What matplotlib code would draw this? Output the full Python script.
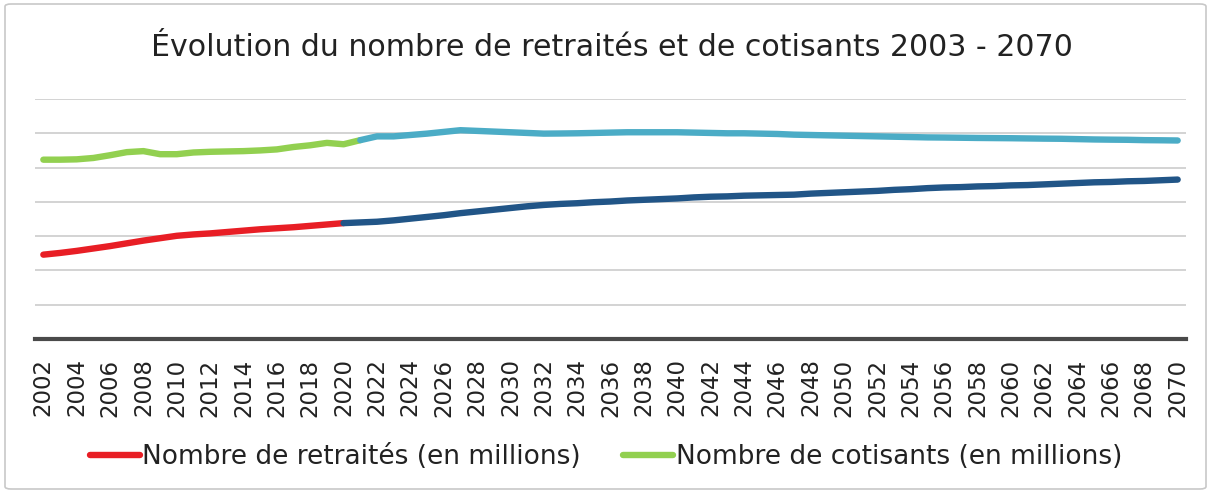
import matplotlib.pyplot as plt
import numpy as np
from matplotlib.patches import FancyBboxPatch

# années (axe des catégories)
years = list(range(2002, 2071))

# retraités, en millions : historique 2002-2020 puis projection 2020-2070
retraites_hist = [12.3, 12.55, 12.85, 13.2, 13.55, 13.95, 14.35, 14.7, 15.05, 15.25,
                  15.4, 15.6, 15.8, 16.0, 16.15, 16.3, 16.5, 16.7, 16.9]
retraites_proj = [16.9, 17.0, 17.1, 17.3, 17.55, 17.8, 18.05, 18.35, 18.6, 18.85,
                  19.1, 19.35, 19.55, 19.7, 19.8, 19.95, 20.05, 20.2, 20.3, 20.4,
                  20.5, 20.65, 20.75, 20.8, 20.9, 20.95, 21.0, 21.05, 21.2, 21.3,
                  21.4, 21.5, 21.6, 21.75, 21.85, 22.0, 22.1, 22.15, 22.25, 22.3,
                  22.4, 22.45, 22.55, 22.65, 22.75, 22.85, 22.9, 23.0, 23.05, 23.15,
                  23.25]

# cotisants, en millions : historique 2002-2021 puis projection 2021-2070
cotisants_hist = [26.15, 26.15, 26.2, 26.4, 26.8, 27.25, 27.4, 26.95, 26.95, 27.2,
                  27.3, 27.35, 27.4, 27.5, 27.65, 28.0, 28.25, 28.6, 28.4, 29.0]
cotisants_proj = [29.0, 29.55, 29.55, 29.75, 29.95, 30.2, 30.45, 30.35, 30.25, 30.15,
                  30.05, 29.95, 29.97, 30.0, 30.05, 30.1, 30.15, 30.15, 30.15, 30.15,
                  30.1, 30.05, 30.0, 30.0, 29.95, 29.9, 29.8, 29.75, 29.7, 29.65,
                  29.6, 29.55, 29.5, 29.45, 29.4, 29.38, 29.35, 29.32, 29.3, 29.28,
                  29.25, 29.22, 29.2, 29.15, 29.1, 29.07, 29.05, 29.0, 28.98, 28.95]

label_retraites = "Nombre de retraités (en millions)"
label_cotisants = "Nombre de cotisants (en millions)"
title = "Évolution du nombre de retraités et de cotisants 2003 - 2070"


def main():
    W, H = 1211, 493
    fig = plt.figure(figsize=(W / 100, H / 100), dpi=100)
    ax = fig.add_axes([35 / W, 1 - 339 / H, (1186 - 35) / W, (339 - 99) / H])

    lw = 4.6
    common = dict(lw=lw, solid_capstyle="round", solid_joinstyle="round", zorder=3)
    ax.plot(years[:len(retraites_hist)], retraites_hist, color="#E81E25",
            label=label_retraites, **common)
    ax.plot(years[len(retraites_hist) - 1:], retraites_proj, color="#215587", **common)
    ax.plot(years[:len(cotisants_hist)], cotisants_hist, color="#92D050",
            label=label_cotisants, **common)
    ax.plot(years[len(cotisants_hist) - 1:], cotisants_proj, color="#4BACC6", **common)

    ax.set_xlim(years[0] - 0.5, years[-1] + 0.5)
    ax.set_ylim(0, 35)
    ax.set_yticks(np.arange(5, 36, 5))
    ax.yaxis.grid(True, color="#D0D0D0", lw=1.3)
    ax.set_axisbelow(True)
    ax.tick_params(axis="y", left=False, labelleft=False)
    ax.set_xticks(years[::2])
    ax.set_xticklabels([str(y) for y in years[::2]], rotation=90, fontsize=16.5,
                       color="#222222")
    ax.tick_params(axis="x", length=0, pad=14)
    for s in ["top", "right", "left"]:
        ax.spines[s].set_visible(False)
    ax.spines["bottom"].set_color("#4A4A4A")
    ax.spines["bottom"].set_linewidth(3)

    fig.text(612 / W, 1 - 48 / H, title, ha="center", va="center", fontsize=21.6,
             color="#222222")

    fig.legend(loc="center", bbox_to_anchor=(606 / W, 1 - 457 / H), ncol=2,
               frameon=False, fontsize=19, handlelength=1.9, handletextpad=0.1,
               columnspacing=1.6, labelcolor="#222222")

    border = FancyBboxPatch((5 / W, 4 / H), (W - 10) / W, (H - 8) / H,
                            boxstyle="round,pad=0,rounding_size=0.005",
                            transform=fig.transFigure, fill=False,
                            edgecolor="#C8C8C8", lw=1.2)
    fig.patches.append(border)

    fig.savefig("out.png", dpi=100)
    plt.close(fig)


if __name__ == "__main__":
    main()
